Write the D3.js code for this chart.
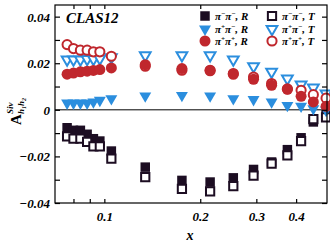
<!DOCTYPE html>
<html><head><meta charset="utf-8">
<script src="https://cdn.jsdelivr.net/npm/d3@7"></script>
<style>body{margin:0;background:#fff}svg{display:block}text{font-family:"Liberation Serif","DejaVu Serif",serif}</style>
</head><body><svg id="c" width="330" height="247"></svg>
<script>
const xVals = [0.0764,0.0800,0.0841,0.0883,0.0924,0.0968,0.1052,0.1344,0.1752,0.2148,0.254,0.294,0.335,0.3755,0.4146,0.453,0.4966];
const mmR = [-0.0077,-0.0088,-0.0088,-0.0105,-0.0124,-0.0134,-0.0177,-0.0246,-0.0303,-0.031,-0.0292,-0.0256,-0.0224,-0.0171,-0.012,-0.0052,-0.002];
const mmT = [-0.0114,-0.0124,-0.0124,-0.0138,-0.0157,-0.0157,-0.021,-0.0289,-0.0339,-0.035,-0.0328,-0.0282,-0.0231,-0.0196,-0.0134,-0.004,-0.0032];
const pmR = [0.0029,0.0029,0.0029,0.0029,0.0034,0.0041,0.0048,0.006,0.0062,0.006,0.0048,0.0044,0.0034,0.0019,0.0016,0.0005,-0.0002];
const pmT = [0.0216,0.0216,0.0216,0.0218,0.0218,0.022,0.0225,0.0234,0.0234,0.0234,0.0216,0.0187,0.0163,0.0134,0.0108,0.0095,0.007];
const ppR = [0.0153,0.0158,0.0163,0.0166,0.0169,0.0173,0.018,0.0194,0.0177,0.017,0.0156,0.0131,0.0105,0.0088,0.0058,0.0034,0.0015];
const ppT = [0.028,0.0263,0.0256,0.0256,0.0249,0.0249,0.023,0.0187,0.017,0.0168,0.0153,0.0141,0.0113,0.009,0.0084,0.0065,0.005];
const yTicks = [-0.04,-0.03,-0.02,-0.01,0,0.01,0.02,0.03,0.04];
const yLabels = ["\u22120.04","","\u22120.02","","0","","0.02","","0.04"];
const xTicks = [0.08,0.09,0.1,0.2,0.3,0.4];
const xLabels = ["","","0.1","0.2","0.3","0.4"];

const blk="#1c0d22", blu="#2b8ede", red="#c0272d";
const svg=d3.select("#c");
const L=55,R=327,T=5,B=203;
const x=d3.scaleLog().domain([0.07,0.5]).range([L,R]);
const y=d3.scaleLinear().domain([-0.04,0.045]).range([B,T]);
const F="bold italic";

svg.append("line").attr("x1",L).attr("x2",R).attr("y1",y(0)).attr("y2",y(0)).attr("stroke","#000").attr("stroke-width",1);

const sym = {
  sq: d3.symbol().type(d3.symbolSquare).size(90),
  sqo: d3.symbol().type(d3.symbolSquare).size(68),
  tri: d3.symbol().type(d3.symbolTriangle).size(62),
  trio: d3.symbol().type(d3.symbolTriangle).size(50),
  cir: d3.symbol().type(d3.symbolCircle).size(95),
  ciro: d3.symbol().type(d3.symbolCircle).size(66)
};
function series(vals, s, fill, stroke, rot){
  svg.append("g").selectAll("path").data(vals).join("path")
    .attr("d", s)
    .attr("transform",(d,i)=>`translate(${x(xVals[i])},${y(d)})`+(rot?" rotate(180)":""))
    .attr("fill",fill).attr("stroke",stroke||"none").attr("stroke-width",stroke?2:0);
}
series(mmR, sym.sq, blk);
series(mmT, sym.sqo, "#fff", blk);
series(pmR, sym.tri, blu, null, true);
series(pmT, sym.trio, "#fff", blu, true);
series(ppT, sym.ciro, "#fff", red);
series(ppR, sym.cir, red);

svg.append("rect").attr("x",L).attr("y",T).attr("width",R-L).attr("height",B-T).attr("fill","none").attr("stroke","#000").attr("stroke-width",1.2);

const ax = d3.axisLeft(y).tickValues(yTicks).tickSize(-5).tickPadding(5).tickFormat((d,i)=>yLabels[i]);
const gl = svg.append("g").attr("transform",`translate(${L},0)`).call(ax);
const gr = svg.append("g").attr("transform",`translate(${R},0)`).call(d3.axisRight(y).tickValues(yTicks).tickSize(-5).tickFormat(""));
const bx = d3.axisBottom(x).tickValues(xTicks).tickSize(-4).tickPadding(9).tickFormat((d,i)=>xLabels[i]);
const gb = svg.append("g").attr("transform",`translate(0,${B})`).call(bx);
const gt = svg.append("g").attr("transform",`translate(0,${T})`).call(d3.axisTop(x).tickValues(xTicks).tickSize(-4).tickFormat(""));
[gl,gr,gb,gt].forEach(g=>{g.select(".domain").remove();g.selectAll("line").attr("stroke","#000").attr("stroke-width",1.2);
  g.selectAll("text").attr("fill","#000").style("font",F+" 13px 'Liberation Serif'");});
gl.selectAll("text").attr("dy","0.35em");

svg.append("text").attr("x",190).attr("y",240).attr("text-anchor","middle").style("font",F+" 14px 'Liberation Serif'").text("x");

const yl = svg.append("g").attr("transform","translate(21,125) rotate(-90)");
yl.append("text").attr("x",0).attr("y",0).style("font","bold 15px 'Liberation Serif'").text("A");
yl.append("text").attr("x",11).attr("y",-8).style("font","bold italic 9px 'Liberation Serif'").text("Siv");
const sub = yl.append("text").attr("x",11).attr("y",3).style("font","bold italic 9px 'Liberation Serif'");
sub.append("tspan").text("h");
sub.append("tspan").attr("dy",2).style("font-size","6px").text("1");
sub.append("tspan").attr("dy",-2).text("h");
sub.append("tspan").attr("dy",2).style("font-size","6px").text("2");

svg.append("text").attr("x",66).attr("y",23).style("font",F+" 15px 'Liberation Serif'").text("CLAS12");

const legItems = [
  {c:0,r:0,s:sym.sq,fill:blk,stroke:null,rot:false,a:"\u2212",b:"\u2212",t:"R"},
  {c:1,r:0,s:sym.sqo,fill:"#fff",stroke:blk,rot:false,a:"\u2212",b:"\u2212",t:"T"},
  {c:0,r:1,s:sym.tri,fill:blu,stroke:null,rot:true,a:"+",b:"\u2212",t:"R"},
  {c:1,r:1,s:sym.trio,fill:"#fff",stroke:blu,rot:true,a:"+",b:"\u2212",t:"T"},
  {c:0,r:2,s:sym.cir,fill:red,stroke:null,rot:false,a:"+",b:"+",t:"R"},
  {c:1,r:2,s:sym.ciro,fill:"#fff",stroke:red,rot:false,a:"+",b:"+",t:"T"}
];
const colX=[205,272], rowY=[16,29,41];
legItems.forEach(it=>{
  const cx=colX[it.c], cy=rowY[it.r];
  svg.append("path").attr("d",it.s).attr("transform",`translate(${cx},${cy})`+(it.rot?" rotate(180)":""))
    .attr("fill",it.fill).attr("stroke",it.stroke||"none").attr("stroke-width",it.stroke?2:0);
  const t=svg.append("text").attr("x",cx+10).attr("y",cy+4).style("font",F+" 11px 'Liberation Serif'");
  t.append("tspan").text("\u03c0");
  t.append("tspan").attr("dy",-4).style("font-size","7px").text(it.a);
  t.append("tspan").attr("dy",4).text("\u03c0");
  t.append("tspan").attr("dy",-4).style("font-size","7px").text(it.b);
  t.append("tspan").attr("dy",4).text(", "+it.t);
});
</script></body></html>
